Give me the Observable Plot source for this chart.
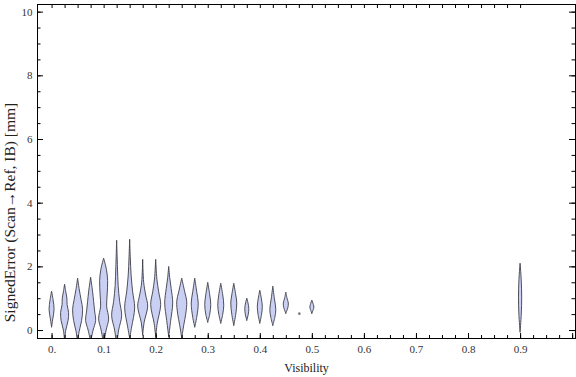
<!DOCTYPE html>
<html><head><meta charset="utf-8">
<script src="https://cdn.jsdelivr.net/npm/d3@7"></script>
<script src="https://cdn.jsdelivr.net/npm/@observablehq/plot@0.6"></script>
<style>body{margin:0;background:#fff}</style>
</head><body><div id="chart"></div>
<script>
// Violin centers (Visibility bins)
const centers = [0, 0.025, 0.05, 0.075, 0.1, 0.125, 0.15, 0.175, 0.2, 0.225, 0.25, 0.275, 0.3, 0.325, 0.35, 0.375, 0.4, 0.425, 0.45, 0.5, 0.9];
// Density profiles per violin: [signedError, relative density]
const profiles = [
  [[0.1,0],[0.35,1.2],[0.65,2.5],[0.95,1.5],[1.22,0]],
  [[-0.35,0],[0.0,1.2],[0.3,3.5],[0.55,4],[0.8,2.5],[1.0,2.3],[1.2,1.2],[1.44,0]],
  [[-0.4,0],[-0.05,1.5],[0.3,4],[0.65,5],[0.95,3.5],[1.3,1.5],[1.63,0]],
  [[-0.35,0],[0.0,2.5],[0.3,5],[0.6,4],[0.9,3],[1.2,2],[1.66,0]],
  [[-0.45,0],[0.0,2.5],[0.35,5],[0.75,3],[1.1,3.5],[1.55,4],[1.9,2.8],[2.26,0]],
  [[-0.5,0],[0.0,2],[0.45,5],[0.9,3],[1.4,1.5],[2.0,0.8],[2.82,0]],
  [[-0.25,0],[0.1,2],[0.7,5],[1.2,3],[1.7,1.5],[2.3,0.6],[2.85,0]],
  [[-0.15,0],[0.25,1.5],[0.75,5],[1.1,3],[1.5,1],[2.22,0]],
  [[-0.2,0],[0.2,1.5],[0.8,5],[1.2,3],[1.6,1.2],[2.22,0]],
  [[-0.2,0],[0.3,2],[0.85,4],[1.3,2.5],[1.65,1],[2.0,0]],
  [[-0.25,0],[0.15,2],[0.5,4],[0.9,5],[1.2,3],[1.63,0]],
  [[0.1,0],[0.4,2],[0.85,3.5],[1.2,2],[1.63,0]],
  [[0.25,0],[0.5,2],[0.8,3],[1.1,2],[1.5,0]],
  [[0.22,0],[0.5,2],[0.78,3],[1.1,2],[1.47,0]],
  [[0.15,0],[0.5,2],[0.85,3],[1.1,2],[1.47,0]],
  [[0.31,0],[0.5,1.5],[0.68,2],[0.85,1.2],[1.0,0]],
  [[0.22,0],[0.5,1.8],[0.75,2.5],[1.0,1.5],[1.25,0]],
  [[0.15,0],[0.4,2],[0.65,3],[1.0,1.5],[1.38,0]],
  [[0.53,0],[0.7,2],[0.85,2.5],[1.0,1.2],[1.19,0]],
  [[0.53,0],[0.65,1.5],[0.72,2],[0.8,1.5],[0.94,0]],
  [[-0.06,0],[0.5,1.2],[1.03,1.6],[1.6,1.1],[2.1,0]]
];
// Single-observation bins
const singleX = [0.475];
const singleY = [0.53];
// Tick labels
const xTicks = [0, 0.1, 0.2, 0.3, 0.4, 0.5, 0.6, 0.7, 0.8, 0.9];
const yTicks = [0, 2, 4, 6, 8, 10];
const xLabel = "Visibility";
const yLabel = "SignedError (Scan\u2192Ref, IB) [mm]";

const W = 576, H = 377, mL = 37, mR = 1, mT = 4, mB = 39;
const xDom = [-0.028, 1.0055], yDom = [-0.25, 10.24];
const pxX = (W - mL - mR) / (xDom[1] - xDom[0]);
const pxY = (H - mT - mB) / (yDom[1] - yDom[0]);

const rows = centers.flatMap((c, i) => profiles[i].map(([y, w]) => ({id: i, c, y, w})));
const singles = singleX.map((x, i) => ({x, y: singleY[i]}));

const xMinor = d3.range(0, 41).map(i => i / 40);
const xMajor = d3.range(0, 11).map(i => i / 10);
const xTop = d3.range(0, 37).map(i => i / 40);
const yMinor = d3.range(0, 21).map(i => i / 2);

const font = "Liberation Serif, Times New Roman, serif";
const tx = (len) => len / pxY;
const ty = (len) => len / pxX;
const yLabelPos = yDom[1] - (212 - mT) / pxY;

const chart = Plot.plot({
  width: W, height: H,
  marginLeft: mL, marginRight: mR, marginTop: mT, marginBottom: mB,
  style: {fontFamily: font, fontSize: "11px", color: "#333", background: "#fff"},
  x: {domain: xDom, axis: null},
  y: {domain: yDom, axis: null},
  marks: [
    Plot.areaX(rows, {
      y: "y", x1: d => d.c - d.w / pxX, x2: d => d.c + d.w / pxX, z: "id",
      curve: "catmull-rom", fill: "#c9d0f4", stroke: "#3e3e48", strokeWidth: 1, strokeOpacity: 0.9, clip: true
    }),
    Plot.dot(singles, {x: "x", y: "y", r: 1.3, fill: "#777", stroke: "none"}),
    // bottom ticks
    Plot.ruleX(xMinor, {x: d => d, y1: yDom[0], y2: yDom[0] + tx(3), stroke: "#000"}),
    Plot.ruleX(xMajor, {x: d => d, y1: yDom[0], y2: yDom[0] + tx(5), stroke: "#000"}),
    // top ticks
    Plot.ruleX(xTop, {x: d => d, y1: yDom[1], y2: yDom[1] - tx(4), stroke: "#000"}),
    // left ticks
    Plot.ruleY(yMinor, {y: d => d, x1: xDom[0], x2: xDom[0] + ty(3.5), stroke: "#000"}),
    Plot.ruleY(yTicks, {y: d => d, x1: xDom[0], x2: xDom[0] + ty(6), stroke: "#000"}),
    // right ticks
    Plot.ruleY(yMinor, {y: d => d, x1: xDom[1], x2: xDom[1] - ty(3.5), stroke: "#000"}),
    Plot.ruleY(yTicks, {y: d => d, x1: xDom[1], x2: xDom[1] - ty(6), stroke: "#000"}),
    Plot.frame({stroke: "#000", strokeWidth: 1}),
    // tick labels
    Plot.text(xTicks, {x: d => d, y: yDom[0], text: d => d === 0 ? "0." : String(d), dy: 11, lineAnchor: "middle", fill: "#333", fontSize: 11}),
    Plot.text(yTicks, {y: d => d, x: xDom[0], text: d => String(d), dx: -5, textAnchor: "end", fill: "#333", fontSize: 11}),
    // axis labels
    Plot.text([xLabel], {frameAnchor: "bottom", dy: 30, lineAnchor: "middle", fill: "#222", fontSize: 12}),
    Plot.text([yLabel], {x: xDom[0], y: yLabelPos, dx: -27, rotate: -90, lineAnchor: "middle", fill: "#222", fontSize: 15.5})
  ]
});
document.getElementById("chart").appendChild(chart);
</script>
</body></html>
